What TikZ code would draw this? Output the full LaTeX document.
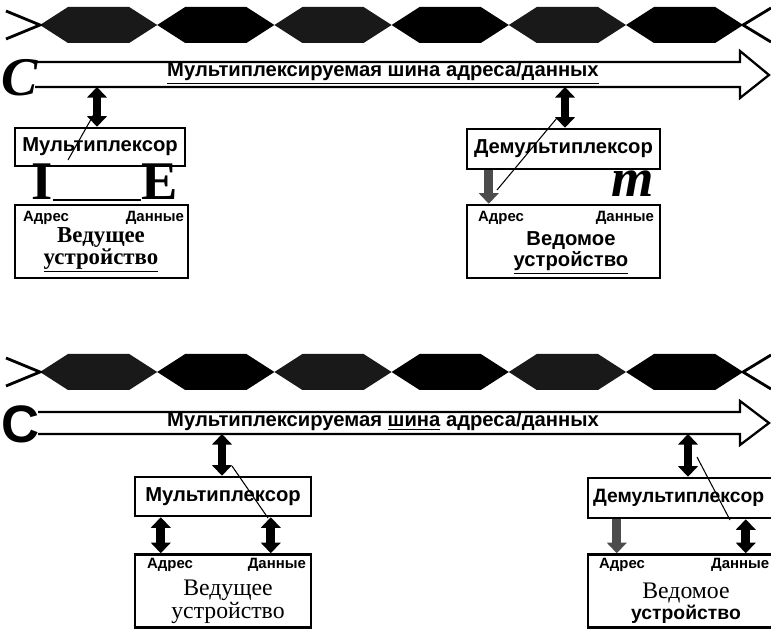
\documentclass[tikz,border=0pt]{standalone}
\usepackage{fontspec}
\setmainfont{Liberation Serif}
\setsansfont{Liberation Sans}
\usetikzlibrary{arrows.meta,calc}
\tikzset{
    >={Triangle[length=6pt,width=11pt]}, % block arrowheads of the bus links
    unitbox/.style={draw=black, line width=1.4pt, inner sep=0pt,
        font=\sffamily\bfseries\fontsize{11.5}{13}\selectfont},
    pinlabel/.style={inner sep=0pt, font=\sffamily\bfseries\fontsize{8.5}{9}\selectfont},
    buslabel/.style={inner sep=0pt, font=\sffamily\bfseries\fontsize{11.5}{13}\selectfont},
    busline/.style={line width=1.3pt, draw=black, line join=miter},
    link/.style={line width=5pt, draw=black, <->},
    droplink/.style={line width=5pt, draw=black!70, ->},
    glyph/.style={inner sep=0pt, text height=7.3mm, text depth=0pt,
        font=\bfseries\fontsize{31}{31}\selectfont},
    scratch/.style={line width=0.6pt, draw=black}
}
\begin{document}
\begin{tikzpicture}[x=0.2mm,y=-0.2mm]
  \useasboundingbox (0,0) rectangle (771,632);
  \clip (0,0) rectangle (771,632);

  % Time diagrams of the bus (address / data slots)
  \foreach \yc in {25,372}{
    \foreach \k in {0,...,5}{
      \pgfmathsetmacro\xa{40+117.2*\k}
      \pgfmathsetmacro\xb{\xa+117.2}
      \pgfmathtruncatemacro\odd{mod(\k,2)}
      \ifnum\odd=0 \def\eyefill{black!90}\else\def\eyefill{black}\fi
      \fill[\eyefill] (\xa,\yc) -- (\xa+28,\yc-18) -- (\xb-28,\yc-18)
        -- (\xb,\yc) -- (\xb-28,\yc+18) -- (\xa+28,\yc+18) -- cycle;
    }
    \draw[line width=1.6pt] (6,\yc-14) -- (40,\yc) -- (6,\yc+14);
    \draw[line width=1.6pt] (771,\yc-17) -- (743,\yc) -- (771,\yc+17);
  }

  % ---------- upper scheme ----------
  \draw[busline] (35,62) -- (740,62) -- (740,51) -- (769,75) -- (740,98) -- (740,87) -- (35,87);
  \node[inner sep=0pt, font=\bfseries\itshape\fontsize{31}{31}\selectfont] (capA) at (20,78) {C};
  \node[buslabel] (busA) at (383,73) {\underline{Мультиплексируемая шина адреса/данных}};
  \coordinate (tapA) at (97,87);
  \coordinate (tapB) at (565,87);

  \node[unitbox, minimum width=34mm, minimum height=7.6mm] (muxA) at (100,147) {Мультиплексор};
  \node[unitbox, minimum width=34.6mm, minimum height=14.6mm] (devA) at (101.5,241.5) {};
  \node[pinlabel, anchor=north west] (adrA) at ($(devA.north west)+(9,7)$) {Адрес};
  \node[pinlabel, anchor=north east] (datA) at ($(devA.north east)+(-5,7)$) {Данные};
  \node[inner sep=0pt, align=center, font=\bfseries\fontsize{13}{10.5}\selectfont] (nameA) at (101,250) {Ведущее\\\underline{устройство}};
  \node[glyph, anchor=base] (glyphI) at (42,200) {I};
  \node[glyph, anchor=base] (glyphE) at (160,200) {E};
  \draw[line width=1.4pt] (glyphI.base east) -- (glyphE.base west);
  \draw[link] (tapA) -- (tapA |- muxA.north);

  \node[unitbox, minimum width=38.6mm, minimum height=8mm] (demuxB) at (563.5,149) {Демультиплексор};
  \node[unitbox, minimum width=38.6mm, minimum height=14.6mm] (devB) at (563.5,241.5) {};
  \node[pinlabel, anchor=north west] (adrB) at ($(devB.north west)+(12,7)$) {Адрес};
  \node[pinlabel, anchor=north east] (datB) at ($(devB.north east)+(-7,7)$) {Данные};
  \node[inner sep=0pt, align=center, font=\sffamily\bfseries\fontsize{11.5}{10}\selectfont] (nameB) at (571,253) {Ведомое\\\underline{устройство}};
  \node[glyph, anchor=base, text height=5mm, font=\bfseries\itshape\fontsize{31}{31}\selectfont] (glyphM) at (633,197) {m};
  \draw[link] (tapB) -- (tapB |- demuxB.north);
  \draw[droplink] ($(demuxB.south west)+(23,0)$) -- ($(devB.north west)+(23,0)$);

  % scan scratches
  \coordinate (scrA1) at (94,114);  \coordinate (scrA2) at (68,160);
  \coordinate (scrB1) at (557,118); \coordinate (scrB2) at (497,190);
  \draw[scratch] (scrA1) -- (scrA2);
  \draw[scratch] (scrB1) -- (scrB2);

  % ---------- lower scheme ----------
  \draw[busline] (38,412) -- (740,412) -- (740,401) -- (769,423) -- (740,445) -- (740,434) -- (38,434);
  \node[inner sep=0pt, font=\sffamily\bfseries\fontsize{30}{30}\selectfont] (capC) at (21,424) {C};
  \node[buslabel] (busC) at (383,423) {Мульти\underline{плексируемая} \underline{шина} адреса/данных};
  \coordinate (tapC) at (222,434);
  \coordinate (tapD) at (688,434);

  \node[unitbox, minimum width=35.2mm, minimum height=7.8mm] (muxC) at (223,496.5) {Мультиплексор};
  \node[unitbox, minimum width=35.2mm, minimum height=14.6mm] (devC) at (223,591) {};
  \node[pinlabel, anchor=north west] (adrC) at ($(devC.north west)+(13,5)$) {Адрес};
  \node[pinlabel, anchor=north east] (datC) at ($(devC.north east)+(-6,5)$) {Данные};
  \node[inner sep=0pt, align=center, font=\fontsize{13.5}{9.6}\selectfont] (nameC) at (228,602) {Ведущее\\устройство};
  \draw[link] (tapC) -- (tapC |- muxC.north);
  \draw[link] ($(muxC.south west)+(27,0)$) -- ($(devC.north west)+(27,0)$);
  \draw[link] ($(muxC.south west)+(137,0)$) -- ($(devC.north west)+(137,0)$);

  \node[unitbox, minimum width=39.2mm, minimum height=8mm] (demuxD) at (686,498) {};
  \node[inner sep=0pt, anchor=west, font=\sffamily\bfseries\fontsize{11}{13}\selectfont] (demuxDtext) at ($(demuxD.west)+(6,0)$) {Демультиплексор};
  \node[unitbox, minimum width=39.2mm, minimum height=14.6mm] (devD) at (686,591) {};
  \node[pinlabel, anchor=north west] (adrD) at ($(devD.north west)+(12,5)$) {Адрес};
  \node[pinlabel, anchor=north west] (datD) at ($(devD.north west)+(124,5)$) {Данные};
  \node[inner sep=0pt, align=center, font=\fontsize{13.5}{9.6}\selectfont] (nameD) at (686,603) {Ведомое\\{\sffamily\bfseries\fontsize{11}{9.6}\selectfont устройство}};
  \draw[link] (tapD) -- (tapD |- demuxD.north);
  \draw[droplink] ($(demuxD.south west)+(30,0)$) -- ($(devD.north west)+(30,0)$);
  \draw[link] ($(demuxD.south west)+(159,0)$) -- ($(devD.north west)+(159,0)$);

  \coordinate (scrC1) at (232,466); \coordinate (scrC2) at (268,518);
  \coordinate (scrD1) at (697,457); \coordinate (scrD2) at (730,520);
  \draw[scratch] (scrC1) -- (scrC2);
  \draw[scratch] (scrD1) -- (scrD2);
\end{tikzpicture}
\end{document}
